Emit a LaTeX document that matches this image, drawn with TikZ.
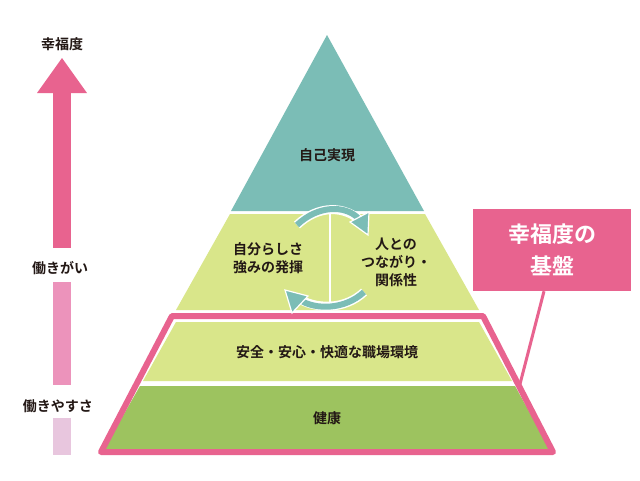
\documentclass[tikz,border=0pt]{standalone}
\usepackage{fontspec}
\setmainfont{Noto Sans CJK JP}[BoldFont={Noto Sans CJK JP Bold}]
\usetikzlibrary{arrows.meta}
\definecolor{teal}{HTML}{7BBDB6}
\definecolor{lgreen}{HTML}{D9E68A}
\definecolor{dgreen}{HTML}{9DC35F}
\definecolor{pk}{HTML}{E8638F}
\definecolor{mpk}{HTML}{EC93BB}
\definecolor{lpk}{HTML}{E8C6DE}
\definecolor{txt}{HTML}{231815}
\tikzset{lbl/.style={font=\bfseries\fontsize{14}{18}\selectfont, text=txt, align=center, inner sep=0pt}}
\begin{document}
\begin{tikzpicture}[x=1pt,y=-1pt]
\useasboundingbox (0,0) rectangle (640,480);
\fill[white] (0,0) rectangle (640,480);
% left scale
\fill[pk] (53,93) rectangle (71,248);
\fill[pk] (37,93) -- (62,58) -- (87,93) -- cycle;
\fill[mpk] (53,282) rectangle (71,385);
\fill[lpk] (53,418) rectangle (71,455);
\node[lbl] (t1) at (62,44) {幸福度};
\node[lbl] (t2) at (60,268) {働きがい};
\node[lbl] (t3) at (58,406) {働きやすさ};
% pyramid
\fill[teal] (327,35) -- (424,211) -- (231,211) -- cycle;
\fill[lgreen] (230,214) -- (425,214) -- (479,310) -- (176,310) -- cycle;
\fill[lgreen] (176,322) -- (479,322) -- (512,381) -- (143,381) -- cycle;
\fill[dgreen] (140,386) -- (515,386) -- (550,449) -- (104,449) -- cycle;
% pink outline
\draw[pk, line width=6pt, line join=round] (172,316) -- (483,316) -- (553,452) -- (101,452) -- cycle;
% cycle arrows
\draw[white, line width=2pt] (330,214) -- (330,305);
\draw[white, line width=9pt] (297,225) .. controls (318,205) and (345,205) .. (362,222);
\draw[teal, line width=6pt] (297,225) .. controls (318,205) and (345,205) .. (358,218);
\fill[teal, draw=white, line width=1.2pt] (350,222) -- (369,212) -- (368,235) -- cycle;
\draw[white, line width=9pt] (364,292) .. controls (345,310) and (315,310) .. (296,297);
\draw[teal, line width=6pt] (364,292) .. controls (345,310) and (315,310) .. (300,300);
\fill[teal, draw=white, line width=1.2pt] (308,296) -- (285,290) -- (292,313) -- cycle;
\node[lbl] (a) at (268,258) {自分らしさ\\強みの発揮};
\node[lbl] (b) at (396,262) {人との\\つながり・\\関係性};
\node[lbl] (c) at (327,352) {安全・安心・快適な職場環境};
\node[lbl] (d) at (327,418) {健康};
\node[lbl] (e) at (327,155) {自己実現};
% callout
\node[fill=pk, minimum width=158pt, minimum height=82pt, inner sep=0pt, text=white, align=center, font=\bfseries\fontsize{22}{32}\selectfont] (box) at (552,250) {幸福度の\\基盤};
\coordinate (tip) at (520,384);
\draw[pk, line width=3pt] ([xshift=-8pt]box.south) -- (tip);
\end{tikzpicture}
\end{document}
